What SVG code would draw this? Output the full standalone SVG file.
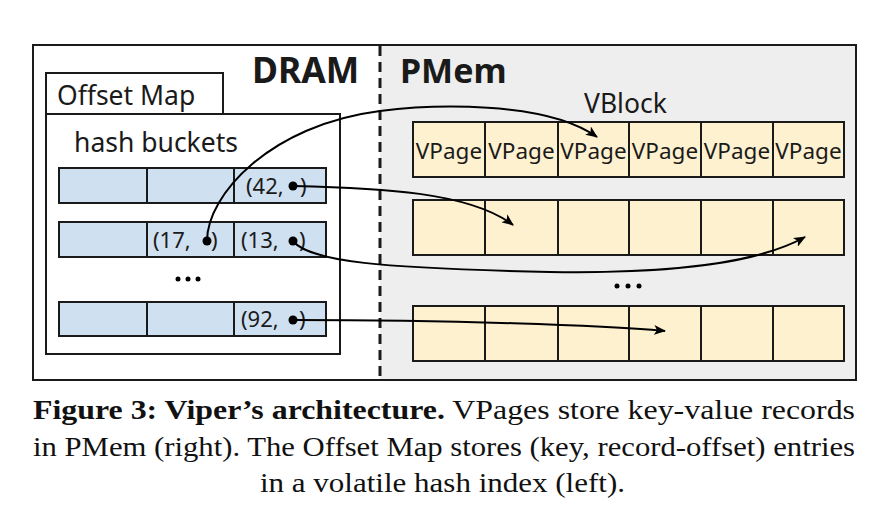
<svg xmlns="http://www.w3.org/2000/svg" width="886" height="522" viewBox="0 0 886 522">
<style>
.box{fill:#fff;stroke:#1a1a1a;stroke-width:2}
.bk{fill:#cfe0f1;stroke:#1a1a1a;stroke-width:2}
.pg{fill:#fdf1d0;stroke:#1a1a1a;stroke-width:2}
.t{font-family:"Noto Sans",sans-serif;fill:#1a1a1a}
.lbl{font-size:26.5px}
.cell{font-size:22px}
.vp{font-size:22.5px;text-anchor:middle}
.big{font-size:34px;font-weight:bold}
.conn{fill:none;stroke:#000;stroke-width:2;marker-end:url(#ah)}
.cap{font-family:"Liberation Serif",serif;font-size:27px;fill:#111}
</style>
<defs>
<marker id="ah" viewBox="0 0 12 10" refX="11" refY="5" markerWidth="12" markerHeight="10" markerUnits="userSpaceOnUse" orient="auto">
<path d="M0,0 L12,5 L0,10 L3,5 Z" fill="#000"/>
</marker>
</defs>
<rect width="886" height="522" fill="#fff"/>
<g id="frame">
<rect x="380" y="45" width="476" height="335" fill="#eeeeee"/>
<rect x="33" y="45" width="823" height="335" fill="none" stroke="#1a1a1a" stroke-width="2"/>
<line x1="380" y1="46" x2="380" y2="380" stroke="#1a1a1a" stroke-width="3" stroke-dasharray="10 6"/>
<text class="t big" x="252" y="83" font-size="35.5" style="font-size:35.5px">DRAM</text>
<text class="t big" x="400" y="83">PMem</text>
</g>
<g id="offset-map">
<rect class="box" x="46" y="73" width="177" height="41"/>
<text class="t lbl" x="57" y="105">Offset Map</text>
<rect class="box" x="46" y="114" width="294" height="240"/>
<text class="t lbl" x="74" y="152">hash buckets</text>
</g>
<g id="bucket-1">
<rect class="bk" x="59" y="168" width="88" height="35"/>
<rect class="bk" x="147" y="168" width="87" height="35"/>
<rect class="bk" x="234" y="168" width="92" height="35"/>
<text class="t cell" x="246" y="194">(42,</text>
<text class="t cell" x="300" y="194">)</text>
<circle cx="293" cy="186" r="4.5" fill="#000"/>
</g>
<g id="bucket-2">
<rect class="bk" x="59" y="222" width="88" height="35"/>
<rect class="bk" x="147" y="222" width="87" height="35"/>
<rect class="bk" x="234" y="222" width="92" height="35"/>
<text class="t cell" x="153" y="248">(17,</text>
<text class="t cell" x="211" y="248">)</text>
<circle cx="207" cy="241" r="4.5" fill="#000"/>
<text class="t cell" x="241" y="248">(13,</text>
<text class="t cell" x="299" y="248">)</text>
<circle cx="293" cy="241" r="4.5" fill="#000"/>
</g>
<g id="bucket-dots">
<circle cx="178" cy="279" r="2.5" fill="#000"/>
<circle cx="188" cy="279" r="2.5" fill="#000"/>
<circle cx="198" cy="279" r="2.5" fill="#000"/>
</g>
<g id="bucket-3">
<rect class="bk" x="59" y="302" width="88" height="34"/>
<rect class="bk" x="147" y="302" width="87" height="34"/>
<rect class="bk" x="234" y="302" width="92" height="34"/>
<text class="t cell" x="241" y="327">(92,</text>
<text class="t cell" x="299" y="327">)</text>
<circle cx="293" cy="320" r="4.5" fill="#000"/>
</g>
<g id="vblock-1">
<text class="t lbl" x="584" y="113">VBlock</text>
<rect class="pg" x="413" y="122" width="72" height="55"/>
<rect class="pg" x="485" y="122" width="73" height="55"/>
<rect class="pg" x="558" y="122" width="71" height="55"/>
<rect class="pg" x="629" y="122" width="72" height="55"/>
<rect class="pg" x="701" y="122" width="72" height="55"/>
<rect class="pg" x="773" y="122" width="71" height="55"/>
<text class="t vp" x="449" y="159">VPage</text>
<text class="t vp" x="521.5" y="159">VPage</text>
<text class="t vp" x="593.5" y="159">VPage</text>
<text class="t vp" x="665" y="159">VPage</text>
<text class="t vp" x="737" y="159">VPage</text>
<text class="t vp" x="808.5" y="159">VPage</text>
</g>
<g id="vblock-2">
<rect class="pg" x="413" y="200" width="72" height="55"/>
<rect class="pg" x="485" y="200" width="73" height="55"/>
<rect class="pg" x="558" y="200" width="71" height="55"/>
<rect class="pg" x="629" y="200" width="72" height="55"/>
<rect class="pg" x="701" y="200" width="72" height="55"/>
<rect class="pg" x="773" y="200" width="71" height="55"/>
</g>
<g id="vblock-dots">
<circle cx="617" cy="286" r="2.5" fill="#000"/>
<circle cx="628" cy="286" r="2.5" fill="#000"/>
<circle cx="639" cy="286" r="2.5" fill="#000"/>
</g>
<g id="vblock-3">
<rect class="pg" x="413" y="306" width="72" height="55"/>
<rect class="pg" x="485" y="306" width="73" height="55"/>
<rect class="pg" x="558" y="306" width="71" height="55"/>
<rect class="pg" x="629" y="306" width="72" height="55"/>
<rect class="pg" x="701" y="306" width="72" height="55"/>
<rect class="pg" x="773" y="306" width="71" height="55"/>
</g>
<g id="connectors">
<path class="conn" d="M207,241 C207,195 270,125 380,111 C430,104.6 545,100 597,137"/>
<path class="conn" d="M293,186 C380,188 470,192 513,225"/>
<path class="conn" d="M293,241 C310,262 380,268 550,272 C680,274 760,262 805,237"/>
<path class="conn" d="M293,320 C450,320 600,325 665,331"/>
</g>
<g id="caption">
<text class="cap" x="33" y="419" textLength="822" lengthAdjust="spacingAndGlyphs"><tspan font-weight="bold">Figure 3: Viper’s architecture.</tspan> VPages store key-value records</text>
<text class="cap" x="33" y="456" textLength="822" lengthAdjust="spacingAndGlyphs">in PMem (right). The Offset Map stores (key, record-offset) entries</text>
<text class="cap" x="260" y="492" textLength="365" lengthAdjust="spacingAndGlyphs">in a volatile hash index (left).</text>
</g>
</svg>
